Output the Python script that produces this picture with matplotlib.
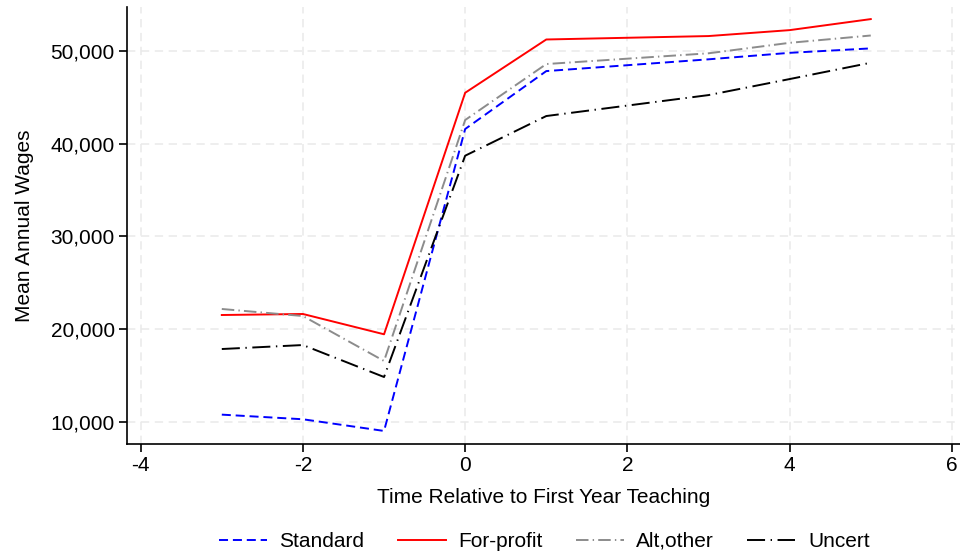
import matplotlib
matplotlib.use("Agg")
import matplotlib.pyplot as plt
from matplotlib.ticker import FuncFormatter

plt.rcParams['font.family'] = ['Liberation Sans', 'DejaVu Sans']
plt.rcParams['lines.scale_dashes'] = False
plt.rcParams['axes.unicode_minus'] = False

# years relative to first teaching year
years = [-3, -2, -1, 0, 1, 3, 4, 5]

# mean annual wages by certification route
standard = [10760, 10260, 9000, 41580, 47830, 49100, 49800, 50280]
for_profit = [21510, 21620, 19430, 45490, 51240, 51610, 52250, 53440]
alt_other = [22160, 21400, 16550, 42550, 48590, 49750, 50880, 51670]
uncert = [17840, 18270, 14820, 38700, 42980, 45240, 46970, 48730]

fig = plt.figure(figsize=(9.6, 5.52), dpi=100)
ax = fig.add_axes([0.1326, 0.1957, 0.8674, 0.7922])

lw = 1.4
ax.plot(years, standard, color='#0000ff', lw=lw, ls=(0, (6.5, 3.5)), label='Standard')
ax.plot(years, for_profit, color='#ff0000', lw=lw, ls='-', label='For-profit')
ax.plot(years, alt_other, color='#8c8c8c', lw=lw, ls=(0, (9, 3, 1, 3)), label='Alt,other')
ax.plot(years, uncert, color='black', lw=lw, ls=(0, (13, 4, 1, 4)), label='Uncert')

ax.set_xlim(-4.165, 6.1)
ax.set_ylim(7594, 54780)
ax.set_xticks([-4, -2, 0, 2, 4, 6])
ax.set_yticks([10000, 20000, 30000, 40000, 50000])
ax.yaxis.set_major_formatter(FuncFormatter(lambda v, p: f'{int(v):,}'))

ax.grid(True, color='#eaeaea', lw=1.1, ls=(0, (6, 4)))
ax.set_axisbelow(True)
for s in ['top', 'right']:
    ax.spines[s].set_visible(False)
for s in ['left', 'bottom']:
    ax.spines[s].set_linewidth(1.2)
ax.tick_params(axis='both', labelsize=15, length=6, width=1.2, pad=3)

ax.set_xlabel('Time Relative to First Year Teaching', fontsize=15, labelpad=9)
ax.set_ylabel('Mean Annual Wages', fontsize=15, labelpad=12)

fig.legend(loc='lower center', bbox_to_anchor=(0.567, -0.032), ncol=4, frameon=False,
           fontsize=15, handlelength=2.3, handletextpad=0.6, columnspacing=1.6)

fig.savefig('out.png', dpi=100)
